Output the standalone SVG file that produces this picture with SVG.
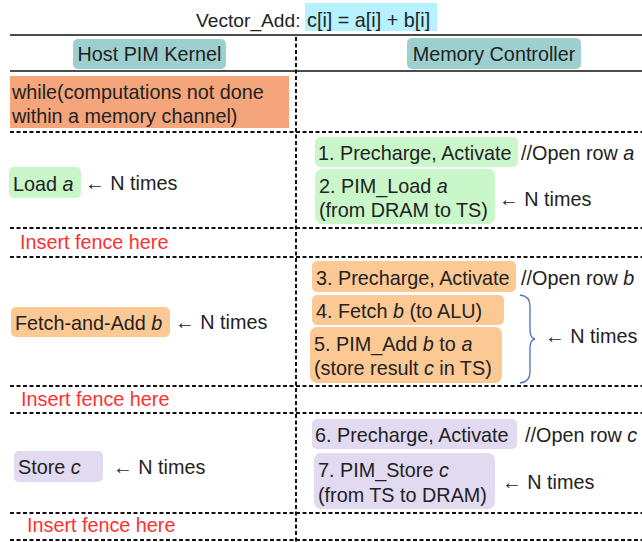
<svg xmlns="http://www.w3.org/2000/svg" width="642" height="542" viewBox="0 0 642 542">
  <style>
    text { font-family: "Liberation Sans", Arial, sans-serif; font-size: 19.8px; fill: #222; }
    .title { font-size: 19.2px; }
    .fence { fill: #ff3030; }
    .hdr { fill: #9dcfcf; }
    .loop { fill: #f5a57c; }
    .green { fill: #c9f7c9; }
    .orange { fill: #fcc995; }
    .purple { fill: #e1daf1; }
    .solid { stroke: #111; stroke-width: 1.5; }
    .dash { stroke: #111; stroke-width: 2; stroke-dasharray: 4 2.5; fill: none; }
    .brace { stroke: #4a72c4; stroke-width: 1.3; fill: none; }
  </style>

  <!-- title -->
  <g id="title">
    <rect x="305" y="3" width="132" height="28" fill="#b5f1ff"/>
    <text class="title" x="196" y="27">Vector_Add:</text>
    <text x="307" y="27">c[i] = a[i] + b[i]</text>
  </g>

  <!-- table rules -->
  <g id="connectors">
    <line class="solid" x1="10" y1="35" x2="642" y2="35"/>
    <line class="solid" x1="10" y1="71" x2="642" y2="71"/>
    <line class="dash" x1="296" y1="37" x2="296" y2="542"/>
    <line class="dash" x1="10" y1="132" x2="642" y2="132"/>
    <line class="dash" x1="10" y1="228" x2="642" y2="228"/>
    <line class="dash" x1="10" y1="257" x2="642" y2="257"/>
    <line class="dash" x1="10" y1="386" x2="642" y2="386"/>
    <line class="dash" x1="10" y1="413" x2="642" y2="413"/>
    <line class="dash" x1="10" y1="513" x2="642" y2="513"/>
    <line class="dash" x1="10" y1="540" x2="642" y2="540"/>
    <path class="brace" d="M520,295 Q530,296 530,306 L530,330 Q530,338 535,339 Q530,340 530,348 L530,372 Q530,382 520,383"/>
  </g>

  <!-- column headers -->
  <g id="host-header">
    <rect class="hdr" x="73" y="39" width="153" height="30" rx="5"/>
    <text x="149.5" y="61" text-anchor="middle">Host PIM Kernel</text>
  </g>
  <g id="mc-header">
    <rect class="hdr" x="407" y="38" width="174" height="31" rx="5"/>
    <text x="494" y="61" text-anchor="middle">Memory Controller</text>
  </g>

  <!-- loop condition -->
  <g id="while">
    <rect class="loop" x="10" y="76" width="279" height="52"/>
    <text x="12" y="99">while(computations not done</text>
    <text x="12" y="123">within a memory channel)</text>
  </g>

  <!-- load phase -->
  <g id="load-a">
    <rect class="green" x="9" y="167" width="72" height="31" rx="5"/>
    <text x="13" y="191">Load <tspan font-style="italic">a</tspan></text>
    <text x="85" y="190">← N times</text>
  </g>
  <g id="mc-1">
    <rect class="green" x="315" y="137" width="203" height="30" rx="5"/>
    <text x="318" y="160">1. Precharge, Activate</text>
    <text x="521" y="160">//Open row <tspan font-style="italic">a</tspan></text>
  </g>
  <g id="mc-2">
    <rect class="green" x="315" y="169" width="180" height="55" rx="7"/>
    <text x="319" y="193">2. PIM_Load <tspan font-style="italic">a</tspan></text>
    <text x="319" y="217">(from DRAM to TS)</text>
    <text x="499" y="206">← N times</text>
  </g>
  <g id="fence-1">
    <text class="fence" x="20" y="249">Insert fence here</text>
  </g>

  <!-- add phase -->
  <g id="fetch-add-b">
    <rect class="orange" x="11" y="307" width="159" height="30" rx="5"/>
    <text x="15" y="330">Fetch-and-Add <tspan font-style="italic">b</tspan></text>
    <text x="175" y="329">← N times</text>
  </g>
  <g id="mc-3">
    <rect class="orange" x="312" y="261" width="204" height="31" rx="5"/>
    <text x="316" y="285">3. Precharge, Activate</text>
    <text x="521" y="285">//Open row <tspan font-style="italic">b</tspan></text>
  </g>
  <g id="mc-4">
    <rect class="orange" x="312" y="295" width="192" height="30" rx="5"/>
    <text x="316" y="318">4. Fetch <tspan font-style="italic">b</tspan> (to ALU)</text>
  </g>
  <g id="mc-5">
    <rect class="orange" x="310" y="327" width="192" height="56" rx="7"/>
    <text x="314" y="351">5. PIM_Add <tspan font-style="italic">b</tspan> to <tspan font-style="italic">a</tspan></text>
    <text x="314" y="375">(store result <tspan font-style="italic">c</tspan> in TS)</text>
    <text x="545" y="343">← N times</text>
  </g>
  <g id="fence-2">
    <text class="fence" x="21" y="406">Insert fence here</text>
  </g>

  <!-- store phase -->
  <g id="store-c">
    <rect class="purple" x="14" y="451" width="89" height="31" rx="5"/>
    <text x="18" y="474">Store <tspan font-style="italic">c</tspan></text>
    <text x="113" y="474">← N times</text>
  </g>
  <g id="mc-6">
    <rect class="purple" x="312" y="419" width="205" height="30" rx="5"/>
    <text x="315" y="442">6. Precharge, Activate</text>
    <text x="525" y="442">//Open row <tspan font-style="italic">c</tspan></text>
  </g>
  <g id="mc-7">
    <rect class="purple" x="314" y="453" width="181" height="56" rx="7"/>
    <text x="318" y="477">7. PIM_Store <tspan font-style="italic">c</tspan></text>
    <text x="318" y="502">(from TS to DRAM)</text>
    <text x="502" y="489">← N times</text>
  </g>
  <g id="fence-3">
    <text class="fence" x="27" y="532">Insert fence here</text>
  </g>
</svg>
